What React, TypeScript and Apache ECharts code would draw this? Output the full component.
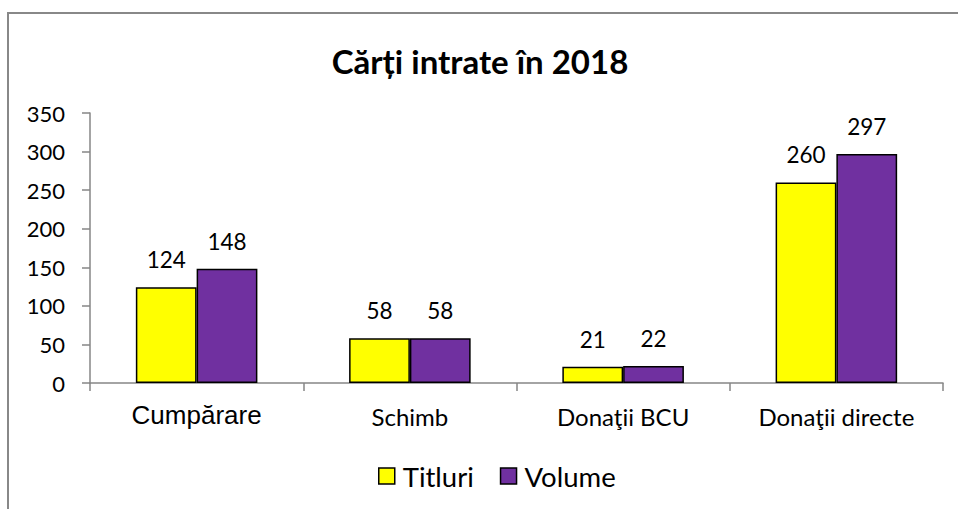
import React, { useEffect, useRef } from "react";
import * as echarts from "echarts";

const categories = ["Cumpărare", "Schimb", "Donaţii BCU", "Donaţii directe"];
const titluri = [124, 58, 21, 260];
const volume = [148, 58, 22, 297];
const seriesNames = ["Titluri", "Volume"];
const titleText = "Cărți intrate în 2018";

export default function App() {
  const ref = useRef<HTMLDivElement>(null);
  useEffect(() => {
    if (!ref.current) return;
    const chart = echarts.init(ref.current, null, { renderer: "svg" });
    const font = "Lato";
    chart.setOption({
      animation: false,
      backgroundColor: "#ffffff",
      title: {
        text: titleText,
        left: 475,
        textAlign: "center",
        top: 39,
        textStyle: { fontFamily: font, fontWeight: "bold", fontSize: 33, color: "#000" },
      },
      graphic: [
        {
          type: "rect",
          shape: { x: 8, y: 13, width: 1000, height: 600 },
          style: { fill: "none", stroke: "#888888", lineWidth: 2 },
          silent: true,
        },
      ],
      legend: {
        top: 457,
        left: 373,
        itemWidth: 16,
        itemHeight: 16,
        itemGap: 26,
        icon: "rect",
        itemStyle: { borderColor: "#000", borderWidth: 1.5 },
        textStyle: { fontFamily: font, fontSize: 27.5, color: "#000", padding: [0, 0, 0, 3] },
        data: seriesNames,
      },
      grid: { left: 90, right: 15, top: 113, bottom: 126 },
      xAxis: {
        type: "category",
        data: categories,
        axisLine: { lineStyle: { color: "#868686", width: 1.5 } },
        axisTick: { show: true, length: 8, alignWithLabel: false, lineStyle: { color: "#868686", width: 1.5 } },
        axisLabel: {
          margin: 19,
          interval: 0,
          formatter: (v: string, i: number) => (i === 0 ? "{a|" + v + "}" : "{b|" + v + "}"),
          rich: {
            a: { fontFamily: "Liberation Sans", fontSize: 26, color: "#000" },
            b: { fontFamily: font, fontSize: 24, color: "#000", padding: [2, 0, 0, 0] },
          },
        },
      },
      yAxis: {
        type: "value",
        min: 0,
        max: 350,
        interval: 50,
        splitLine: { show: false },
        axisLine: { show: true, lineStyle: { color: "#868686", width: 1.5 } },
        axisTick: { show: true, length: 8, lineStyle: { color: "#868686", width: 1.5 } },
        axisLabel: { margin: 25, fontFamily: font, fontSize: 22, color: "#000" },
      },
      series: [
        {
          name: seriesNames[0],
          type: "bar",
          data: titluri,
          barGap: "0%",
          barCategoryGap: "43%",
          itemStyle: { color: "#ffff00", borderColor: "#000", borderWidth: 1.5 },
          label: { show: true, position: "top", distance: 16, fontFamily: font, fontSize: 22.5, color: "#000" },
        },
        {
          name: seriesNames[1],
          type: "bar",
          data: volume,
          barGap: "0%",
          barCategoryGap: "43%",
          itemStyle: { color: "#7030a0", borderColor: "#000", borderWidth: 1.5 },
          label: { show: true, position: "top", distance: 16, fontFamily: font, fontSize: 22.5, color: "#000" },
        },
      ],
    });
    return () => chart.dispose();
  }, []);
  return (
    <div
      ref={ref}
      style={{ position: "fixed", left: 0, top: 0, width: 958, height: 509 }}
    />
  );
}
